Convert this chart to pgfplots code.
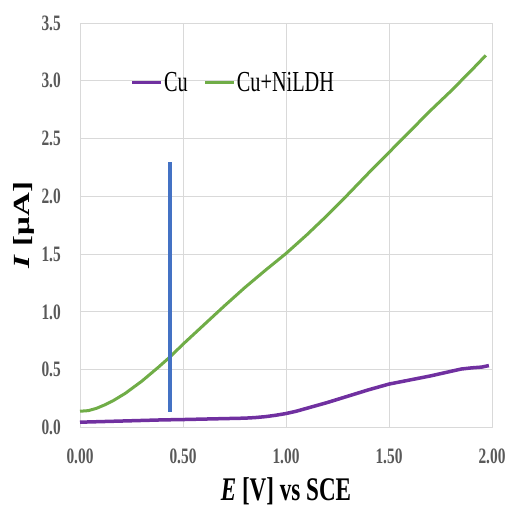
\documentclass[border=0pt]{standalone}
\usepackage{fontspec}
\setmainfont{Liberation Serif}[FakeStretch=0.7]
\newfontfamily\plainserif{Liberation Serif}
\usepackage{pgfplots}
\pgfplotsset{compat=1.18}
\definecolor{cupurple}{HTML}{7030A0}
\definecolor{nigreen}{HTML}{70AD47}
\definecolor{markblue}{HTML}{4472C4}
\definecolor{gridgray}{HTML}{D9D9D9}
\definecolor{ticktext}{HTML}{595959}

\begin{document}
\begin{tikzpicture}
\begin{axis}[
    name=ax,
    scale only axis,
    width=412bp, height=404.4bp,
    xmin=0, xmax=2, ymin=0, ymax=3.5,
    xtick={0,0.5,1,1.5,2},
    ytick={0,0.5,1,1.5,2,2.5,3,3.5},
    grid=major,
    major grid style={gridgray, line width=0.8bp},
    axis line style={gridgray, line width=0.8bp},
    major tick length=0pt,
    tick label style={font=\bfseries\fontsize{22bp}{24bp}\selectfont, text=ticktext,
        /pgf/number format/assume math mode=true},
    xticklabel style={/pgf/number format/.cd, fixed, fixed zerofill, precision=2,
        /tikz/.cd, anchor=base, yshift=-36bp, inner sep=0pt},
    yticklabel style={/pgf/number format/.cd, fixed, fixed zerofill, precision=1,
        /tikz/.cd, anchor=east, xshift=-19bp, inner sep=0pt},
    xlabel={\bfseries\fontsize{33bp}{36bp}\selectfont\textit{E} [V] vs SCE},
    xlabel style={at={(axis description cs:0.5,-0.18)}, anchor=base, inner sep=0pt},
    ylabel={\plainserif\bfseries\fontsize{33bp}{36bp}\selectfont\scalebox{1}[0.7]{\textit{I} [μA]}},
    ylabel style={at={(axis description cs:-0.136,0.5)}, anchor=center, inner sep=0pt},
    legend columns=-1,
    legend style={at={(0.123,0.853)}, anchor=west, draw=none, fill=none,
        inner sep=0pt, outer sep=0pt,
        font=\fontsize{29bp}{31bp}\selectfont,
        nodes={inner sep=1bp},
        /tikz/every even column/.append style={column sep=15bp}},
    legend image code/.code={\draw[#1] (0bp,0bp) -- (29bp,0bp);},
    line join=round,
]
\addplot[cupurple, line width=3.5bp] coordinates {
    (0,0.045) (0.1,0.05) (0.2,0.055) (0.3,0.06) (0.4,0.065) (0.5,0.068)
    (0.6,0.072) (0.7,0.076) (0.8,0.08) (0.85,0.085) (0.9,0.093) (0.95,0.105)
    (1.0,0.12) (1.05,0.14) (1.1,0.165) (1.2,0.215) (1.3,0.27) (1.4,0.325)
    (1.5,0.375) (1.6,0.41) (1.7,0.445) (1.75,0.465) (1.8,0.485) (1.85,0.505)
    (1.9,0.515) (1.95,0.522) (1.985,0.535)
};
\addlegendentry{Cu}
\addplot[nigreen, line width=3bp] coordinates {
    (0,0.14) (0.04,0.145) (0.08,0.165) (0.12,0.195) (0.16,0.23) (0.22,0.295)
    (0.30,0.40) (0.38,0.52) (0.44,0.615) (0.50,0.72) (0.60,0.885) (0.70,1.05)
    (0.80,1.21) (0.90,1.36) (1.0,1.505) (1.1,1.665) (1.2,1.835) (1.3,2.015)
    (1.4,2.20) (1.5,2.38) (1.6,2.56) (1.7,2.74) (1.8,2.91) (1.85,3.0)
    (1.9,3.09) (1.97,3.22)
};
\addlegendentry{Cu+NiLDH}
\addplot[markblue, line width=4.5bp, forget plot] coordinates {
    (0.437,0.136) (0.437,2.30)
};
\end{axis}
\pgfresetboundingbox
\path ([shift={(-80bp,-81.6bp)}]ax.south west) rectangle ([shift={(15bp,23bp)}]ax.north east);
\end{tikzpicture}
\end{document}
